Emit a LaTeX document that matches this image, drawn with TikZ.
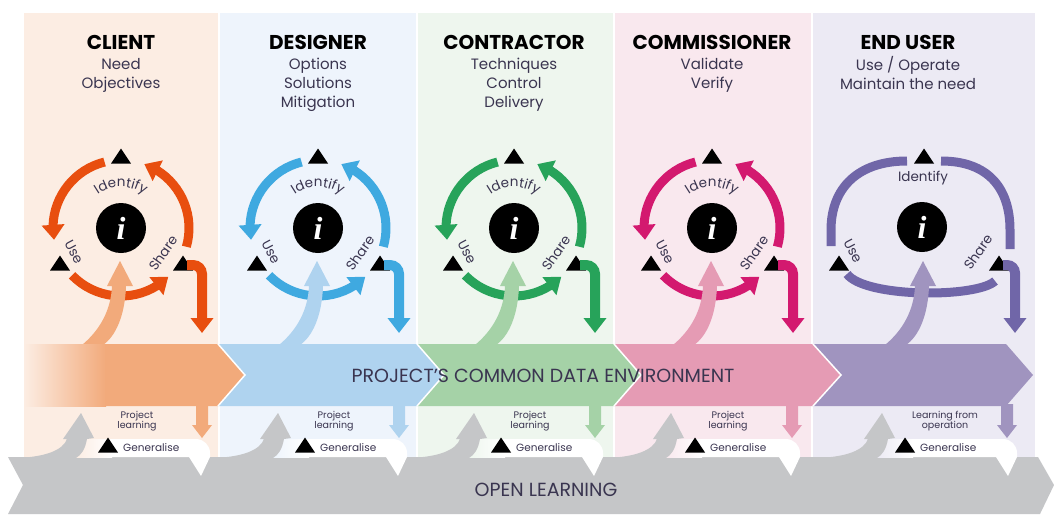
\documentclass[tikz,border=0pt]{standalone}
\usepackage{fontspec}
\setmainfont{Poppins}
\newfontfamily\ifont{Liberation Serif}
\usetikzlibrary{arrows.meta,bending,decorations.text}
\definecolor{pC}{HTML}{FCEDE3}
\definecolor{pD}{HTML}{EEF4FC}
\definecolor{pK}{HTML}{EEF6EE}
\definecolor{pM}{HTML}{F9E8EE}
\definecolor{pE}{HTML}{ECEAF4}
\definecolor{dC}{HTML}{E84E0F}
\definecolor{dD}{HTML}{3FA9E0}
\definecolor{dK}{HTML}{27A35A}
\definecolor{dM}{HTML}{D3196F}
\definecolor{dE}{HTML}{7066A8}
\definecolor{lC}{HTML}{F2AA7B}
\definecolor{lD}{HTML}{AFD3EF}
\definecolor{lK}{HTML}{A5D2A7}
\definecolor{lM}{HTML}{E59BB4}
\definecolor{lE}{HTML}{A094BF}
\definecolor{gb}{HTML}{C5C6C8}
\definecolor{txt}{HTML}{3A3550}
\tikzset{
  ring/.style={line width=9pt},
  arr/.style={-{Triangle[width=22pt,length=15pt]}},
  head/.style={font=\bfseries\fontsize{20}{22}\selectfont, text=black, inner sep=0pt},
  sub/.style={font=\fontsize{15}{19}\selectfont, text=txt, align=center, inner sep=0pt},
  icirc/.style={circle, fill=black, minimum size=50pt, inner sep=0pt, text=white, font=\ifont\bfseries\itshape\fontsize{32}{32}\selectfont},
  lab/.style={font=\fontsize{13.5}{15}\selectfont, text=txt, inner sep=0pt},
  small/.style={font=\fontsize{9.5}{10.5}\selectfont, text=txt, align=center, inner sep=0pt},
  gen/.style={font=\fontsize{10.5}{12}\selectfont, text=txt, inner sep=0pt},
  band/.style={font=\fontsize{19}{22}\selectfont, text=txt, inner sep=0pt},
  sep/.style={draw=white, line width=1.5pt}
}
\newcommand\mytri[2]{\fill[black] (#1,#2) ++(-10,7.5) -- ++(10,-15) -- ++(10,15) -- cycle;}
\newcommand\riseArrow[2]{\fill[#1] ({#2-38},352) -- ({#2-38},345) .. controls ({#2-20},330) and ({#2-9},310) .. ({#2-8},286) -- ({#2-13},286) -- (#2,261) -- ({#2+13},286) -- ({#2+6},286) .. controls ({#2+5},315) and ({#2-4},336) .. ({#2-17},345) -- ({#2-17},352) -- cycle;}
\newcommand\cyc[4]{%
\begin{scope}[shift={(#1,0)}]
\draw[ring,arr,draw=#2] (121,228) ++(256:68) arc[start angle=256,end angle=170,radius=68];
\draw[ring,arr,draw=#2] (121,228) ++(136:68) arc[start angle=136,end angle=46,radius=68];
\draw[ring,arr,draw=#2] (121,228) ++(16:68) arc[start angle=16,end angle=-70,radius=68];
\mytri{121}{156}\mytri{60}{263}\mytri{183}{263}
\node[icirc] (i#4) at (121,228) {i};
\path[decorate,decoration={text along path,text align=center,text={|\fontsize{13.5}{15}\selectfont\color{txt}|Identify}}] (121,228) ++(205:41) arc[start angle=205,end angle=335,radius=41];
\node[lab,rotate=-62] (u#4) at (74,252) {Use};
\node[lab,rotate=55] (s#4) at (163,253) {Share};
\draw[line width=10pt,arr,draw=#2] (187,265) -- (193,265) arc[start angle=-90,end angle=0,radius=9] -- (202,333);
\end{scope}
\riseArrow{#3}{\the\numexpr #1+120\relax}}
\newcommand\bottomPart[9]{%
\fill[#7] ({#8-6},404) -- ({#8-6},425) -- ({#8-10},425) -- (#8,438) -- ({#8+10},425) -- ({#8+6},425) -- ({#8+6},404) -- cycle;
\shade[left color=#6,right color=white] ({#1-5},439) rectangle ({#1+31},457);
\fill[white] ({#1+30},439) -- ({#3-5},439) arc[start angle=-90,end angle=0,radius=14] -- ({#3+9},457) -- (#3,476) -- ({#3-12},457) -- ({#1+30},457) -- cycle;
\fill[gb] ({#1-65},458) .. controls ({#1-35},457) and ({#1-18},450) .. ({#1-14},439) -- ({#1-18},439) -- (#1,413) -- ({#1+13},438) -- ({#1+6},439) .. controls ({#1+4},450) and (#1,455) .. ({#1-5},458) -- cycle;
\mytri{#2}{445}
\node[gen,anchor=west] (g#9) at ({#2+15},448) {Generalise};
\node[small] (p#9) at (#4,421) {#5};}
\begin{document}
\begin{tikzpicture}[x=1pt,y=-1pt]
\useasboundingbox (0,0) rectangle (1054,517);
\fill[white] (0,0) rectangle (1054,517);
% panels
\fill[pC] (24,13) rectangle (217.5,514);
\fill[pD] (219.5,13) rectangle (416,514);
\fill[pK] (418,13) rectangle (613,514);
\fill[pM] (615,13) rectangle (811,514);
\fill[pE] (813,13) rectangle (1035,514);
% headers
\node[head] (hC) at (121,42) {CLIENT};
\node[sub,anchor=north] (sC) at (121,58) {Need\\Objectives};
\node[head] (hD) at (318,42) {DESIGNER};
\node[sub,anchor=north] (sD) at (318,58) {Options\\Solutions\\Mitigation};
\node[head] (hK) at (514,42) {CONTRACTOR};
\node[sub,anchor=north] (sK) at (514,58) {Techniques\\Control\\Delivery};
\node[head] (hM) at (712,42) {COMMISSIONER};
\node[sub,anchor=north] (sM) at (712,58) {Validate\\Verify};
\node[head] (hE) at (908,42) {END USER};
\node[sub,anchor=north] (sE) at (908,56) {Use / Operate\\Maintain the need};
% cycles
\cyc{0}{dC}{lC}{C}
\cyc{197}{dD}{lD}{D}
\cyc{393}{dK}{lK}{K}
\cyc{591}{dM}{lM}{M}
% end user cycle
\draw[ring,draw=dE] (907,161) .. controls (858,161) and (831,188) .. (831,230) -- (831,246);
\draw[ring,draw=dE] (941,161) .. controls (988,161) and (1010,188) .. (1010,230) -- (1010,249);
\draw[ring,draw=dE] (847,274) .. controls (865,298) and (977,298) .. (995,281);
\mytri{924}{156}\mytri{839}{263}\mytri{999}{263}
\node[icirc] (iE) at (922,227) {i};
\node[lab] (idE) at (923,178) {Identify};
\node[lab,rotate=-62] (uE) at (853,251) {Use};
\node[lab,rotate=55] (sE2) at (978,252) {Share};
\draw[line width=10pt,arr,draw=dE] (1003,265) -- (1007,265) arc[start angle=-90,end angle=0,radius=8] -- (1015,333);
\riseArrow{lE}{923}
% common data environment band
\shade[left color=pC,right color=lC] (24,344) rectangle (106,406);
\fill[lC] (105,344) -- (218,344) -- (245,375) -- (218,406) -- (105,406) -- cycle;
\fill[lD] (218,344) -- (417,344) -- (444,375) -- (417,406) -- (218,406) -- (245,375) -- cycle;
\fill[lK] (417,344) -- (614,344) -- (641,375) -- (614,406) -- (417,406) -- (444,375) -- cycle;
\fill[lM] (614,344) -- (813,344) -- (841,375) -- (813,406) -- (614,406) -- (641,375) -- cycle;
\fill[lE] (813,344) -- (1006,344) -- (1033,375) -- (1006,406) -- (813,406) -- (841,375) -- cycle;
\draw[sep] (218,344) -- (245,375) -- (218,406);
\draw[sep] (417,344) -- (444,375) -- (417,406);
\draw[sep] (614,344) -- (641,375) -- (614,406);
\draw[sep] (813,344) -- (841,375) -- (813,406);
\node[band] (cde) at (543,376) {PROJECT'S COMMON DATA ENVIRONMENT};
% open learning band
\fill[gb] (8,457) -- (1038,457) -- (1054,485) -- (1040,514) -- (8,514) -- (23,485) -- cycle;
\bottomPart{81}{108}{201}{137}{Project\\learning}{pC}{lC}{202}{C}
\bottomPart{278}{305}{398}{334}{Project\\learning}{pD}{lD}{399}{D}
\bottomPart{474}{501}{594}{530}{Project\\learning}{pK}{lK}{595}{K}
\bottomPart{671}{695}{791}{728}{Project\\learning}{pM}{lM}{792}{M}
\bottomPart{882}{905}{1008}{945}{Learning from\\operation}{pE}{lE}{1007}{E}
\node[band] (ol) at (546,490) {OPEN LEARNING};
\end{tikzpicture}
\end{document}
